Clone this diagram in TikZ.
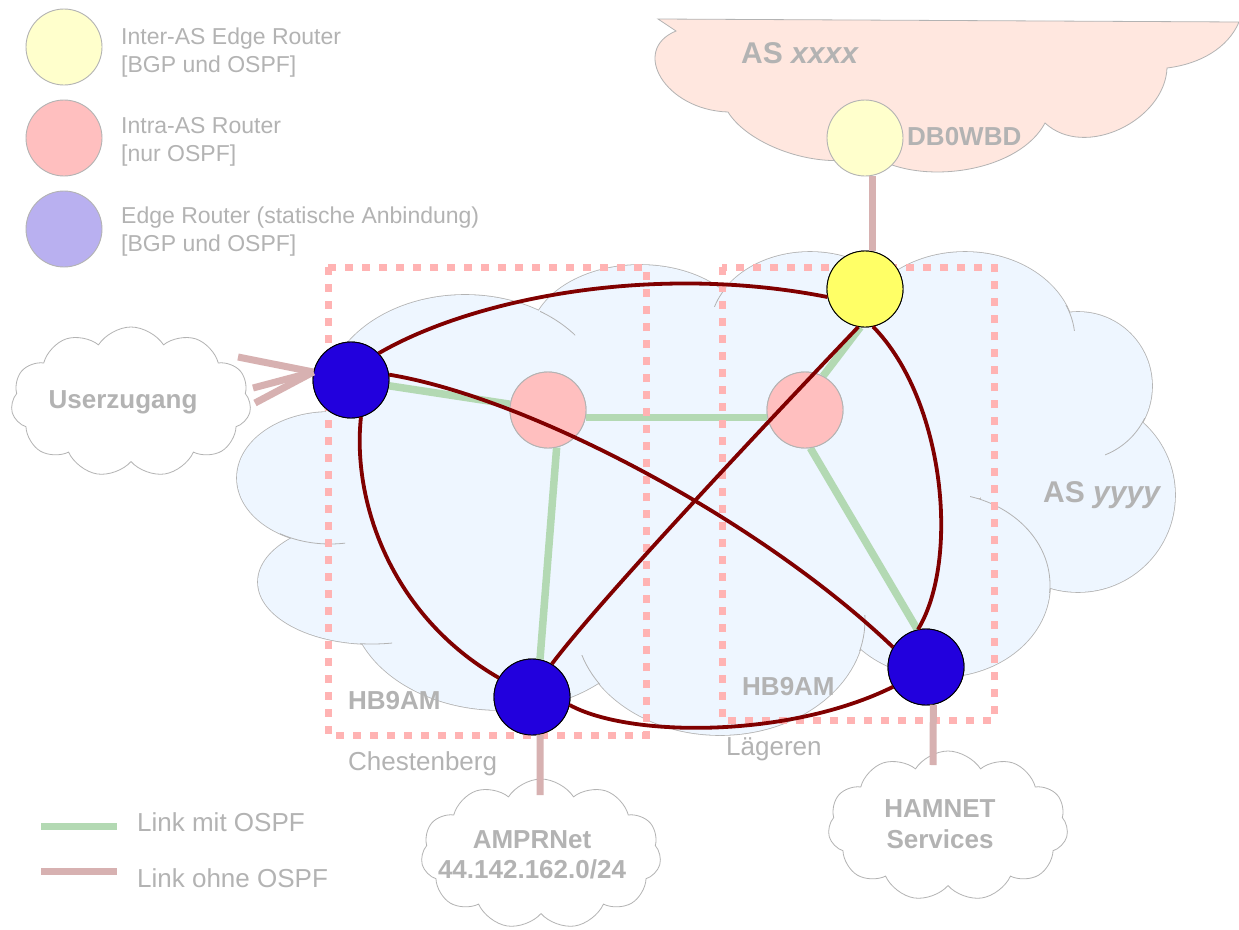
\documentclass[tikz,border=0pt]{standalone}
\usepackage{fontspec}
\setmainfont{Liberation Sans}
\usetikzlibrary{shapes.symbols}

\definecolor{labelgray}{HTML}{B3B3B3}
\definecolor{cloudline}{HTML}{B3B3B3}
\definecolor{asyfill}{HTML}{EEF6FF}
\definecolor{asxfill}{HTML}{FFE7DF}
\definecolor{edgeblue}{HTML}{2200DD}
\definecolor{legblue}{HTML}{B9B0F0}
\definecolor{paleyellow}{HTML}{FFFFCC}
\definecolor{brightyellow}{HTML}{FFFF66}
\definecolor{intrapink}{HTML}{FFBFBF}
\definecolor{ospfgreen}{HTML}{B3D9B3}
\definecolor{plainlink}{HTML}{D7B1B1}
\definecolor{bgplink}{HTML}{800000}
\definecolor{sitebox}{HTML}{FFB3B3}

\newcommand\lgdfont{\fontsize{23}{28}\selectfont}
\newcommand\lblfont{\fontsize{26}{30}\selectfont}
\newcommand\asfont{\fontsize{30}{34}\selectfont\bfseries}

\tikzset{
  router/.style={circle, minimum size=76pt, inner sep=0pt},
  edgerouter/.style={router, fill=edgeblue, draw=black, line width=0.9pt},
  borderrouter/.style={router, fill=brightyellow, draw=black, line width=0.9pt},
  intrarouter/.style={router, fill=intrapink, draw=cloudline, line width=0.9pt},
  legdot/.style={router, draw=cloudline, line width=0.9pt},
  ospflink/.style={draw=ospfgreen, line width=7.5pt},
  plain/.style={draw=plainlink, line width=7pt},
  bgp/.style={draw=bgplink, line width=3.8pt},
  sitefence/.style={draw=sitebox, line width=7pt, dash pattern=on 8pt off 9pt},
  lgdtext/.style={text=labelgray, font=\lgdfont, inner sep=0pt, anchor=base west},
  lbl/.style={text=labelgray, font=\lblfont, inner sep=0pt, anchor=base west},
  lblbold/.style={text=labelgray, font=\lblfont\bfseries, inner sep=0pt, anchor=base west},
  cloudlbl/.style={text=labelgray, font=\lblfont\bfseries, inner sep=0pt, anchor=base},
  smallcloud/.style={cloud, cloud puffs=11, cloud puff arc=115, aspect=1.6,
    draw=cloudline, fill=white, line width=0.8pt,
    minimum width=240pt, minimum height=150pt, inner sep=0pt},
  crease/.style={draw=cloudline, line width=0.8pt}
}

\begin{document}
\begin{tikzpicture}[x=1pt,y=-1pt]
\useasboundingbox (0,0) rectangle (1239,929);
\fill[white] (0,0) rectangle (1239,929);

% ---------- AS yyyy: union of lobes, outline left only on the outside
\foreach \cx/\cy/\rx/\ry in {330/478/93/66, 372/582/114/62, 500/600/150/110,
    465/400/140/105, 640/340/110/75, 810/330/100/78, 965/340/110/88,
    1078/386/74/74, 1078/495/97/97, 940/585/110/92, 720/620/145/115}
  \draw[cloudline, line width=1.6pt] (\cx,\cy) ellipse [x radius=\rx pt, y radius=\ry pt];
\foreach \cx/\cy/\rx/\ry in {330/478/93/66, 372/582/114/62, 500/600/150/110,
    465/400/140/105, 640/340/110/75, 810/330/100/78, 965/340/110/88,
    1078/386/74/74, 1078/495/97/97, 940/585/110/92, 720/620/145/115,
    720/480/260/170, 430/500/80/60, 1000/450/60/50}
  \fill[asyfill] (\cx,\cy) ellipse [x radius=\rx pt, y radius=\ry pt];

% inner creases of the cloud
\begin{scope}\clip (280,520) rectangle (345,548);
  \draw[crease] (330,478) ellipse [x radius=93pt, y radius=66pt];\end{scope}
\begin{scope}\clip (360,635) rectangle (392,650);
  \draw[crease] (372,582) ellipse [x radius=114pt, y radius=62pt];\end{scope}
\begin{scope}\clip (540,300) rectangle (575,335);
  \draw[crease] (465,400) ellipse [x radius=140pt, y radius=105pt];\end{scope}
\begin{scope}\clip (712,286) rectangle (726,306);
  \draw[crease] (810,330) ellipse [x radius=100pt, y radius=78pt];\end{scope}
\begin{scope}\clip (1062,305) rectangle (1076,330);
  \draw[crease] (965,340) ellipse [x radius=110pt, y radius=88pt];\end{scope}
\begin{scope}\clip (1105,418) rectangle (1150,456);
  \draw[crease] (1078,386) ellipse [x radius=74pt, y radius=74pt];\end{scope}
\begin{scope}\clip (970,495) rectangle (1052,592);
  \draw[crease] (940,585) ellipse [x radius=110pt, y radius=92pt];\end{scope}
\begin{scope}\clip (578,655) rectangle (600,688);
  \draw[crease] (720,620) ellipse [x radius=145pt, y radius=115pt];\end{scope}
\begin{scope}\clip (855,615) rectangle (868,650);
  \draw[crease] (720,620) ellipse [x radius=145pt, y radius=115pt];\end{scope}

% ---------- AS xxxx
\filldraw[fill=asxfill, draw=cloudline, line width=0.8pt]
  (658,19) -- (1239,22)
  .. controls (1228,48) and (1200,64) .. (1167,68)
  .. controls (1165,120) and (1085,160) .. (1045,123)
  .. controls (1020,170) and (930,185) .. (880,160)
  -- (850,160)
  .. controls (800,165) and (745,140) .. (728,112)
  .. controls (665,110) and (630,50) .. (676,31)
  -- cycle;

% ---------- small clouds
\node[smallcloud] (userz) at (131,402) {};
\node[smallcloud] (amprnet) at (541,854) {};
\node[smallcloud] (hamnet) at (948,826) {};

% ---------- router positions
\node[intrarouter] (p1) at (548,410) {};
\node[intrarouter] (p2) at (805,410) {};
\node[edgerouter] (ul) at (351,380) {};
\node[edgerouter] (ampr) at (532,697) {};
\node[edgerouter] (ham) at (926,667) {};
\node[borderrouter] (yel) at (865,289) {};
\node[legdot, fill=paleyellow] (db) at (865,138) {};

% ---------- OSPF links
\draw[ospflink] (ul) -- (p1);
\draw[ospflink] (p1.-11) -- (p2.191);
\draw[ospflink] (p1.-77) -- (ampr.78);
\draw[ospflink] (p2.62) -- (yel.-97);
\draw[ospflink] (p2.-82) -- (ham.103);

% ---------- site boxes
\draw[sitefence] (328,267) rectangle (646,735);
\draw[sitefence] (722,267) rectangle (994,720);

% ---------- routers drawn again over links and boxes
\node[intrarouter] at (p1) {};
\node[intrarouter] at (p2) {};
\node[edgerouter] at (ul) {};
\node[edgerouter] at (ampr) {};
\node[edgerouter] at (ham) {};
\node[borderrouter] at (yel) {};

% ---------- links without OSPF
\coordinate (fanA) at (238,357);
\coordinate (fanB) at (253,388);
\coordinate (fanC) at (255,403);
\coordinate (amprin) at (540,795);
\coordinate (hamin) at (933,765);
\draw[plain] (db.-79) -- (yel.79);
\draw[plain] (ul.168) -- (fanA);
\draw[plain] (ul.168) -- (fanB);
\draw[plain] (ul.168) -- (fanC);
\draw[plain] (ampr.-78) -- (amprin);
\draw[plain] (ham.-79) -- (hamin);

% ---------- BGP links
\draw[bgp] (ul.44) .. controls (470,300) and (650,262) .. (yel.192);
\draw[bgp] (ul.-75) .. controls (352,500) and (390,615) .. (ampr.150);
\draw[bgp] (ul.8) .. controls (530,398) and (760,520) .. (ham.149);
\draw[bgp] (ampr.59) .. controls (600,600) and (760,430) .. (yel.-100);
\draw[bgp] (yel.-78) .. controls (945,400) and (960,560) .. (ham.102);
\draw[bgp] (ampr.-12) .. controls (630,738) and (790,738) .. (ham.211);

% ---------- labels
\node[lblbold] (dbl) at (907,145) {DB0WBD};
\node[text=labelgray, font=\asfont, inner sep=0pt, anchor=base west] (asx) at (741,63) {AS \textit{xxxx}};
\node[text=labelgray, font=\asfont, inner sep=0pt, anchor=base west] (asy) at (1043,502) {AS \textit{yyyy}};
\node[lblbold] (hbl) at (348,709) {HB9AM};
\node[lbl] (chest) at (348,770) {Chestenberg};
\node[lblbold] (hbr) at (742,695) {HB9AM};
\node[lbl] (laeg) at (726,755) {Lägeren};
\node[cloudlbl] (userl) at (123,408) {Userzugang};
\node[cloudlbl] (amprl1) at (532,848) {AMPRNet};
\node[cloudlbl] (amprl2) at (532,878) {44.142.162.0/24};
\node[cloudlbl] (haml1) at (940,817) {HAMNET};
\node[cloudlbl] (haml2) at (940,848) {Services};

% ---------- legend
\node[legdot, fill=paleyellow] (lg1) at (64,47) {};
\node[legdot, fill=intrapink] (lg2) at (64,138) {};
\node[legdot, fill=legblue] (lg3) at (64,229) {};
\node[lgdtext] (lt1a) at (121,44) {Inter-AS Edge Router};
\node[lgdtext] (lt1b) at (121,72) {[BGP und OSPF]};
\node[lgdtext] (lt2a) at (121,133) {Intra-AS Router};
\node[lgdtext] (lt2b) at (121,161) {[nur OSPF]};
\node[lgdtext] (lt3a) at (121,223) {Edge Router (statische Anbindung)};
\node[lgdtext] (lt3b) at (121,251) {[BGP und OSPF]};

\coordinate (lga1) at (41,826);
\coordinate (lga2) at (117,826);
\coordinate (lgb1) at (41,871);
\coordinate (lgb2) at (117,871);
\draw[draw=ospfgreen, line width=7pt] (lga1) -- (lga2);
\draw[draw=plainlink, line width=7pt] (lgb1) -- (lgb2);
\node[lbl] (lk1) at (137,831) {Link mit OSPF};
\node[lbl] (lk2) at (137,887) {Link ohne OSPF};
\end{tikzpicture}
\end{document}
